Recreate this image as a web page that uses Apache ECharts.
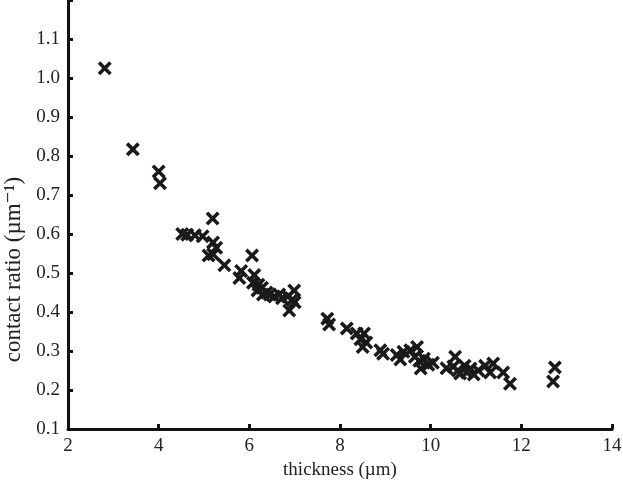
<!DOCTYPE html>
<html>
<head>
<meta charset="utf-8">
<script src="https://cdn.jsdelivr.net/npm/echarts@6/dist/echarts.min.js"></script>
<style>html,body{margin:0;padding:0;background:#fff}#c{width:623px;height:481px}</style>
</head>
<body>
<div id="c"></div>
<script>
var thickness = [2.81,3.43,4.00,4.03,4.52,4.63,4.80,4.97,5.19,5.20,5.27,5.10,5.20,5.45,5.82,5.78,6.06,6.11,6.08,6.20,6.18,6.28,6.30,6.38,6.45,6.55,6.66,6.72,6.85,6.99,6.95,6.88,7.00,7.72,7.76,8.15,8.37,8.53,8.45,8.58,8.50,8.89,8.95,9.25,9.33,9.40,9.55,9.70,9.65,9.75,9.78,9.85,9.95,10.05,10.35,10.54,10.50,10.60,10.65,10.75,10.80,10.88,10.95,11.05,11.20,11.38,11.31,11.60,11.75,12.74,12.70];
var contactRatio = [1.025,0.817,0.760,0.730,0.600,0.598,0.597,0.594,0.640,0.578,0.565,0.545,0.548,0.520,0.505,0.487,0.545,0.495,0.475,0.470,0.455,0.462,0.445,0.450,0.445,0.440,0.445,0.435,0.440,0.455,0.432,0.404,0.425,0.383,0.368,0.358,0.345,0.345,0.330,0.322,0.310,0.302,0.293,0.290,0.278,0.298,0.302,0.310,0.285,0.275,0.255,0.280,0.265,0.270,0.256,0.285,0.260,0.250,0.242,0.262,0.245,0.255,0.240,0.250,0.262,0.268,0.245,0.245,0.216,0.258,0.222];
var xTicks = [2,4,6,8,10,12,14];
var yTicks = [0.1,0.2,0.3,0.4,0.5,0.6,0.7,0.8,0.9,1.0,1.1];

var points = thickness.map(function(x,i){return [x, contactRatio[i]];});
var FONT = '"Liberation Serif","DejaVu Serif",serif';
var chart = echarts.init(document.getElementById('c'), null, {renderer:'canvas'});
chart.setOption({
  animation:false,
  backgroundColor:'#fff',
  grid:{left:68,right:11,top:0,bottom:52,containLabel:false,outerBoundsMode:'none'},
  xAxis:{
    type:'value', min:xTicks[0], max:xTicks[xTicks.length-1], interval:2,
    name:'thickness (\u00b5m)', nameLocation:'middle', nameGap:31,
    nameTextStyle:{fontFamily:FONT,fontSize:19,color:'#222'},
    axisLine:{lineStyle:{color:'#111',width:3}},
    axisTick:{inside:true,length:5,lineStyle:{color:'#111',width:3}},
    axisLabel:{fontFamily:FONT,fontSize:19,color:'#222',margin:8},
    splitLine:{show:false}
  },
  yAxis:{
    type:'value', min:yTicks[0], max:1.2, interval:0.1,
    name:'contact ratio (\u00b5m\u207b\u00b9)', nameLocation:'middle', nameGap:38, nameRotate:90,
    nameTextStyle:{fontFamily:FONT,fontSize:23,color:'#222',padding:[0,110,0,0]},
    axisLine:{lineStyle:{color:'#111',width:3}},
    axisTick:{inside:true,length:5,lineStyle:{color:'#111',width:3}},
    axisLabel:{fontFamily:FONT,fontSize:19,color:'#222',margin:8,
      formatter:function(v){return v>1.15?'':v.toFixed(1);}},
    splitLine:{show:false}
  },
  series:[{
    type:'scatter',
    data:points,
    symbol:'path://M0,1.8L1.8,0L5,3.2L8.2,0L10,1.8L6.8,5L10,8.2L8.2,10L5,6.8L1.8,10L0,8.2L3.2,5Z',
    symbolSize:14,
    itemStyle:{color:'#1a1a1a',opacity:1}
  }]
});
</script>
</body>
</html>
